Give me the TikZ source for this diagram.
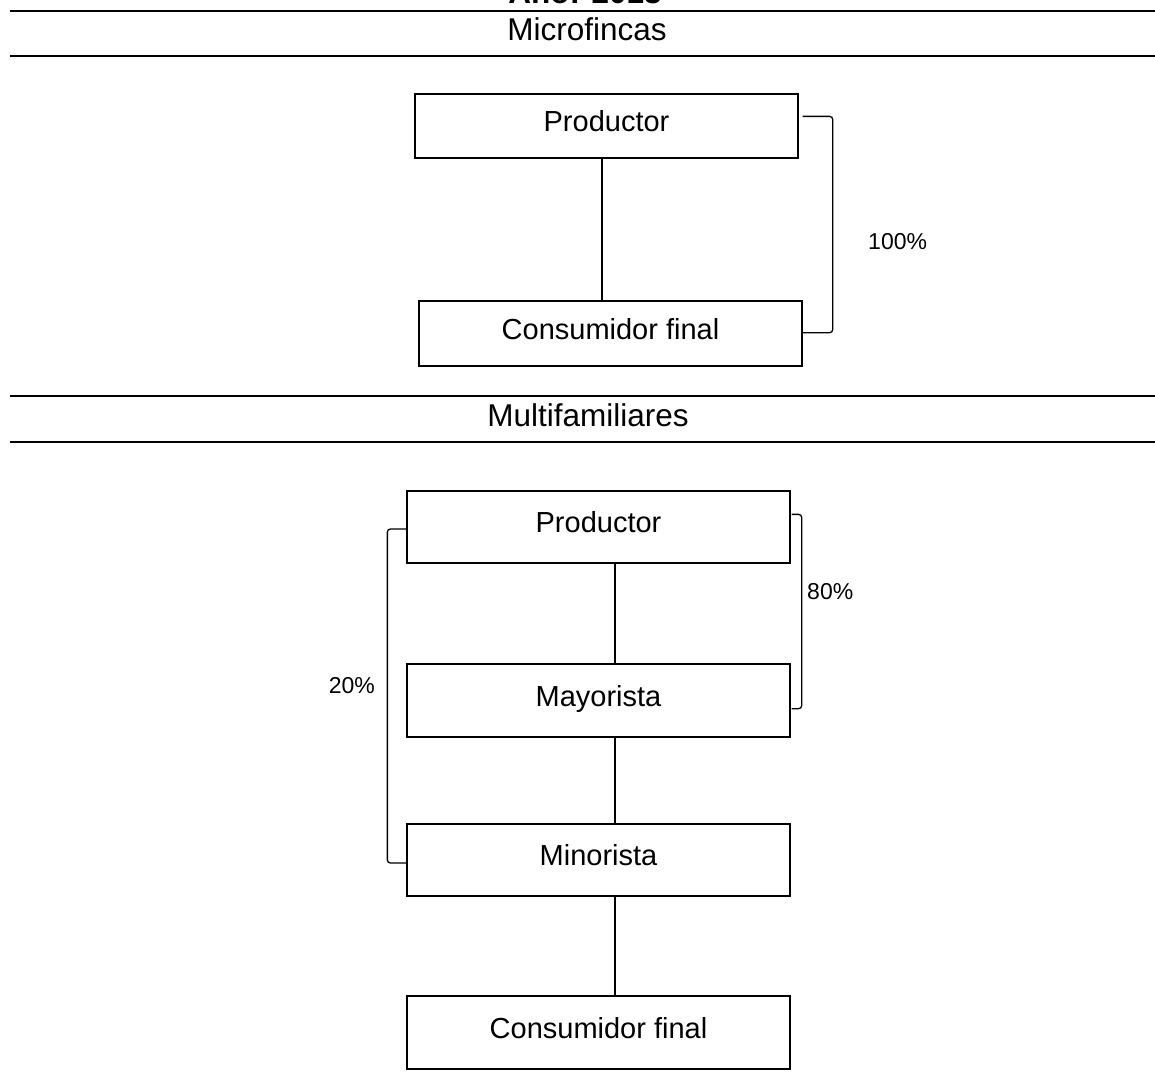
\documentclass[tikz,border=0pt]{standalone}
\usepackage{fontspec}
\setmainfont{Liberation Sans}
\usetikzlibrary{calc}
\begin{document}
\begin{tikzpicture}[x=1pt,y=-1pt,
  stagebox/.style={draw=black,line width=1.3pt,minimum width=383pt,inner sep=0pt,
    font=\fontsize{29}{33}\selectfont,text height=1.3em,text depth=0.14em},
  rule/.style={line width=2pt},
  link/.style={line width=1.2pt},
  bracket/.style={line width=1.3pt,rounded corners=3pt},
  pct/.style={font=\fontsize{23}{26}\selectfont,inner sep=0pt},
  heading/.style={font=\fontsize{31.5}{36}\selectfont,inner sep=0pt,anchor=base}]
\useasboundingbox (0,0) rectangle (1155,1072);
% title and section headings
\node[heading,font=\fontsize{31.5}{36}\selectfont\bfseries] (title) at (585,3) {Año: 2013};
\coordinate (r1a) at (10,11); \coordinate (r1b) at (1155,11);
\coordinate (r2a) at (10,56); \coordinate (r2b) at (1155,56);
\coordinate (r3a) at (10,396); \coordinate (r3b) at (1155,396);
\coordinate (r4a) at (10,442); \coordinate (r4b) at (1155,442);
\draw[rule] (r1a) -- (r1b);
\draw[rule] (r2a) -- (r2b);
\draw[rule] (r3a) -- (r3b);
\draw[rule] (r4a) -- (r4b);
\node[heading] (micro) at (587,40) {Microfincas};
\node[heading] (multi) at (588,426) {Multifamiliares};
% Microfincas
\node[stagebox,minimum height=64pt] (P1) at (606.5,126) {Productor};
\node[stagebox,minimum height=65pt] (C1) at (610.5,333.5) {Consumidor final};
\coordinate (xa) at (602,0);
\draw[link] (P1.south -| xa) -- (C1.north -| xa);
\draw[bracket] ([shift={(4,23)}]P1.north east) -- ++(30,0) |- ([shift={(0,-34)}]C1.south east);
\node[pct,anchor=base west] (p100) at (868,249) {100\%};
% Multifamiliares
\node[stagebox,minimum height=72pt] (P2) at (598.5,527) {Productor};
\node[stagebox,minimum height=73pt] (M2) at (598.5,700.5) {Mayorista};
\node[stagebox,minimum height=72pt] (N2) at (598.5,860) {Minorista};
\node[stagebox,minimum height=73pt] (C2) at (598.5,1032.5) {Consumidor final};
\coordinate (xb) at (615,0);
\draw[link] (P2.south -| xb) -- (M2.north -| xb);
\draw[link] (M2.south -| xb) -- (N2.north -| xb);
\draw[link] (N2.south -| xb) -- (C2.north -| xb);
\draw[bracket] ([shift={(1,24)}]P2.north east) -- ++(10,0) |- ([shift={(1,-29)}]M2.south east);
\draw[bracket] ([shift={(0,2)}]P2.west) -- ++(-19,0) |- ([shift={(0,3)}]N2.west);
\node[pct,anchor=base west] (p80) at (807,599) {80\%};
\node[pct,anchor=base east] (p20) at (375,693) {20\%};
\end{tikzpicture}
\end{document}
